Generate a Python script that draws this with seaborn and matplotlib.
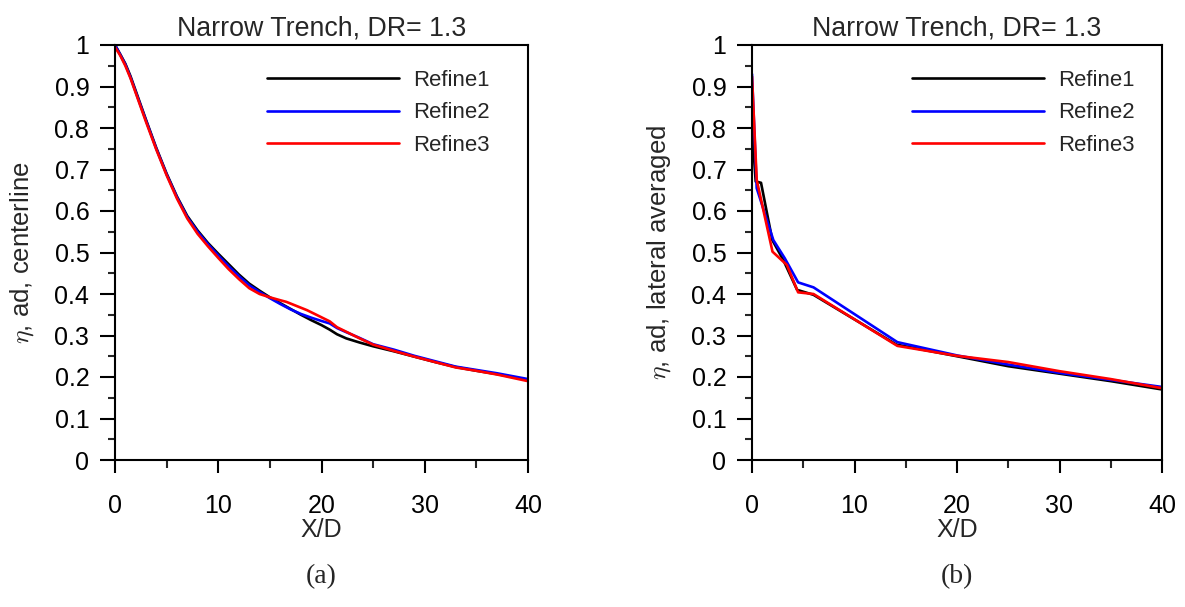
import numpy as np
import pandas as pd
import matplotlib
matplotlib.use("Agg")
import matplotlib.pyplot as plt
from matplotlib import font_manager as fm
from matplotlib.ticker import MultipleLocator
import seaborn as sns

# ---------------- data ----------------
series_names = ["Refine1", "Refine2", "Refine3"]
series_colors = ["#000000", "#0000ff", "#ff0000"]

# (a) centerline
a_r1_x = [0, 0.5, 1, 1.5, 2, 3, 4, 5, 6, 7, 8, 9, 10, 11, 12, 13, 14, 15, 16, 17, 18, 19, 20, 20.8, 21.5, 22.4, 23.7, 25, 27, 29, 31, 33, 35, 37, 40]
a_r1_y = [1.0, 0.978, 0.955, 0.925, 0.89, 0.82, 0.752, 0.69, 0.635, 0.588, 0.553, 0.523, 0.497, 0.472, 0.447, 0.425, 0.408, 0.392, 0.378, 0.364, 0.35, 0.337, 0.325, 0.314, 0.303, 0.293, 0.283, 0.274, 0.262, 0.249, 0.236, 0.224, 0.215, 0.207, 0.193]
a_r2_x = [0, 0.5, 1, 1.5, 2, 3, 4, 5, 6, 7, 8, 9, 10, 11, 12, 13, 14, 15, 16, 17, 18, 19, 20, 20.8, 21.5, 22.4, 23.7, 25, 27, 29, 31, 33, 35, 37, 40]
a_r2_y = [1.0, 0.977, 0.953, 0.922, 0.887, 0.818, 0.75, 0.688, 0.633, 0.585, 0.55, 0.52, 0.493, 0.467, 0.443, 0.421, 0.405, 0.39, 0.376, 0.363, 0.352, 0.343, 0.335, 0.329, 0.318, 0.308, 0.294, 0.279, 0.266, 0.251, 0.238, 0.225, 0.217, 0.209, 0.195]
a_r3_x = [0, 0.5, 1, 1.5, 2, 3, 4, 5, 6, 7, 8, 9, 10, 11, 12, 13, 14, 15, 16, 16.6, 17.5, 18.6, 19.5, 20.8, 21.5, 22.4, 23.7, 25, 27, 29, 31, 33, 35, 37, 40]
a_r3_y = [0.995, 0.975, 0.95, 0.92, 0.885, 0.815, 0.748, 0.686, 0.63, 0.582, 0.545, 0.515, 0.487, 0.46, 0.436, 0.414, 0.4, 0.392, 0.385, 0.381, 0.372, 0.361, 0.35, 0.334, 0.32, 0.309, 0.293, 0.278, 0.263, 0.249, 0.236, 0.223, 0.215, 0.206, 0.19]

# (b) lateral averaged
b_r1_x = [0, 0.36, 0.88, 1.98, 3.05, 4.4, 6.0, 14.1, 20, 25, 30, 35, 40]
b_r1_y = [0.80, 0.671, 0.668, 0.53, 0.482, 0.41, 0.398, 0.278, 0.25, 0.226, 0.208, 0.19, 0.170]
b_r2_x = [0, 0.46, 2.08, 3.2, 4.5, 6.0, 14.18, 20, 25, 30, 35, 40]
b_r2_y = [0.93, 0.655, 0.53, 0.486, 0.428, 0.416, 0.284, 0.252, 0.23, 0.21, 0.193, 0.176]
b_r3_x = [0, 0.46, 2.0, 3.4, 4.5, 6.0, 14.18, 20, 25, 30, 35, 40]
b_r3_y = [0.924, 0.675, 0.502, 0.47, 0.404, 0.40, 0.275, 0.251, 0.236, 0.214, 0.195, 0.173]

titles = ["Narrow Trench, DR= 1.3", "Narrow Trench, DR= 1.3"]
ylabels = [r"$\eta$, ad, centerline", r"$\eta$, ad, lateral averaged"]
xlabel = "X/D"
captions = ["(a)", "(b)"]
xticks = [0, 10, 20, 30, 40]
yticks = [0, 0.1, 0.2, 0.3, 0.4, 0.5, 0.6, 0.7, 0.8, 0.9, 1]
ytick_labels = ["0", "0.1", "0.2", "0.3", "0.4", "0.5", "0.6", "0.7", "0.8", "0.9", "1"]


def make_df(xs, ys):
    frames = []
    for name, x, y in zip(series_names, xs, ys):
        frames.append(pd.DataFrame({"X/D": x, "eta": y, "case": name}))
    return pd.concat(frames, ignore_index=True)


df_a = make_df([a_r1_x, a_r2_x, a_r3_x], [a_r1_y, a_r2_y, a_r3_y])
df_b = make_df([b_r1_x, b_r2_x, b_r3_x], [b_r1_y, b_r2_y, b_r3_y])

# ---------------- fonts ----------------
def find_font(tag):
    for f in fm.fontManager.ttflist:
        p = f.fname.replace("\\", "/").split("/")[-1].lower()
        if p.startswith(tag):
            return f.fname
    return None

sans_path = find_font("liberationsans-regular")
serif_path = find_font("liberationserif-regular")

sns.set_style("ticks")
if sans_path:
    sans_name = fm.FontProperties(fname=sans_path).get_name()
else:
    sans_name = "Liberation Sans"
plt.rcParams["font.family"] = [sans_name, "DejaVu Sans"]
plt.rcParams["mathtext.fontset"] = "cm"


def fp(size, serif=False):
    path = serif_path if serif else sans_path
    if path:
        return fm.FontProperties(fname=path, size=size)
    return fm.FontProperties(family="serif" if serif else "sans-serif", size=size)


fig = plt.figure(figsize=(11.85, 6.07), dpi=100)
W, H = 1185, 607
ax_a = fig.add_axes([115 / W, (H - 460) / H, 413 / W, 415 / H])
ax_b = fig.add_axes([752 / W, (H - 460) / H, 410 / W, 415 / H])

palette = dict(zip(series_names, series_colors))

for ax, df, title, ylab, cap, leg_x in zip(
    [ax_a, ax_b], [df_a, df_b], titles, ylabels, captions, [0.368, 0.39]
):
    sns.lineplot(data=df, x="X/D", y="eta", hue="case", palette=palette,
                 hue_order=series_names, sort=False, estimator=None,
                 linewidth=1.9, ax=ax)
    ax.set_xlim(0, 40)
    ax.set_ylim(0, 1)
    ax.set_xticks(xticks)
    ax.set_yticks(yticks)
    ax.set_yticklabels(ytick_labels)
    ax.xaxis.set_minor_locator(MultipleLocator(5))
    ax.yaxis.set_minor_locator(MultipleLocator(0.05))
    for s in ax.spines.values():
        s.set_linewidth(1.5)
        s.set_color("black")
        s.set_visible(True)
    ax.tick_params(axis="both", which="major", direction="out", width=1.5,
                   colors="black")
    ax.tick_params(axis="y", which="major", length=10.5, pad=8)
    ax.tick_params(axis="y", which="minor", length=5, width=1.5)
    ax.tick_params(axis="x", which="major", length=9.5, pad=15)
    ax.tick_params(axis="x", which="minor", length=5.5, width=1.5)
    for lab in ax.get_xticklabels() + ax.get_yticklabels():
        lab.set_fontproperties(fp(18))
    ax.set_xlabel(xlabel, fontproperties=fp(18), labelpad=0)
    ax.set_ylabel(ylab, fontsize=18.5, labelpad=13)
    ax.set_title(title, fontproperties=fp(19.3), pad=7)
    leg = ax.legend(loc="upper left", bbox_to_anchor=(leg_x, 0.94),
                    frameon=False, prop=fp(15.9), handlelength=6.0,
                    handletextpad=0.6, borderpad=0, borderaxespad=0,
                    labelspacing=0.52)
    for h in leg.get_lines():
        h.set_linewidth(1.9)
    ax.text(0.5, -0.282, cap, transform=ax.transAxes, ha="center", va="center",
            fontproperties=fp(20, serif=True))

fig.savefig("out.png", dpi=100)
